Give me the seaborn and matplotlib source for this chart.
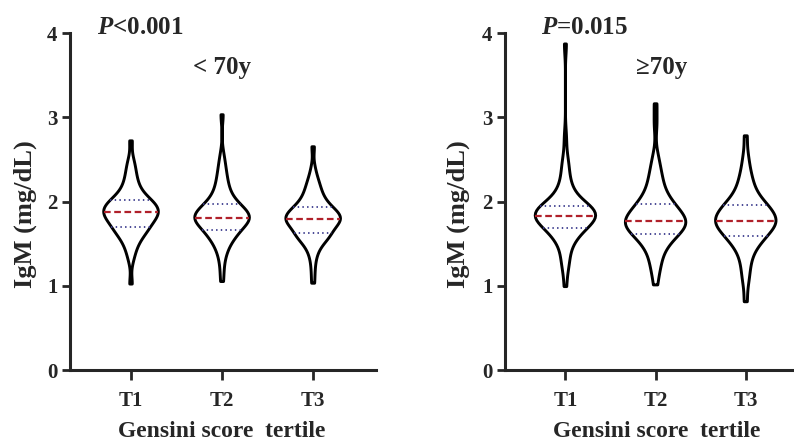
import matplotlib
matplotlib.use('Agg')
import matplotlib.pyplot as plt
import seaborn as sns
import numpy as np
import pandas as pd

sns.set_style('ticks')
plt.rcParams['font.family'] = ['Liberation Serif', 'DejaVu Serif']
plt.rcParams['font.weight'] = 'bold'
plt.rcParams['axes.labelweight'] = 'bold'
plt.rcParams['mathtext.fontset'] = 'custom'
plt.rcParams['mathtext.it'] = 'Liberation Serif:italic:bold'
plt.rcParams['mathtext.rm'] = 'Liberation Serif:bold'

tertiles = ['T1', 'T2', 'T3']
panel_titles = ['< 70y', '\u226570y']
p_labels = [r'$\it{P}$<0.001', r'$\it{P}$=0.015']

# IgM (mg/dL) values, <70y
lt70_t1 = [1.02, 1.30, 1.38, 1.44, 1.48, 1.52, 1.55, 1.58, 1.60, 1.62,
           1.64, 1.65, 1.67, 1.68, 1.69, 1.70, 1.72, 1.74, 1.76, 1.77,
           1.78, 1.79, 1.80, 1.81, 1.82, 1.83, 1.84, 1.85, 1.86, 1.87,
           1.87, 1.88, 1.89, 1.90, 1.91, 1.92, 1.93, 1.94, 1.95, 1.96,
           1.97, 1.98, 1.99, 2.00, 2.01, 2.02, 2.04, 2.06, 2.08, 2.10,
           2.13, 2.16, 2.19, 2.23, 2.27, 2.32, 2.37, 2.43, 2.50, 2.72]
lt70_t2 = [1.05, 1.20, 1.32, 1.39, 1.44, 1.48, 1.51, 1.54, 1.57, 1.59,
           1.61, 1.62, 1.63, 1.64, 1.65, 1.67, 1.69, 1.71, 1.73, 1.74,
           1.75, 1.76, 1.77, 1.78, 1.78, 1.79, 1.79, 1.80, 1.80, 1.81,
           1.81, 1.82, 1.83, 1.84, 1.85, 1.86, 1.87, 1.88, 1.90, 1.91,
           1.92, 1.93, 1.94, 1.95, 1.96, 1.98, 2.00, 2.02, 2.05, 2.08,
           2.11, 2.14, 2.18, 2.22, 2.27, 2.32, 2.38, 2.45, 2.55, 3.03]
lt70_t3 = [1.03, 1.18, 1.30, 1.38, 1.43, 1.47, 1.50, 1.53, 1.55, 1.57,
           1.58, 1.59, 1.60, 1.61, 1.62, 1.63, 1.65, 1.67, 1.69, 1.70,
           1.72, 1.73, 1.74, 1.75, 1.76, 1.77, 1.77, 1.78, 1.78, 1.79,
           1.79, 1.80, 1.81, 1.82, 1.83, 1.84, 1.85, 1.86, 1.87, 1.88,
           1.89, 1.90, 1.91, 1.92, 1.93, 1.95, 1.97, 1.99, 2.01, 2.03,
           2.05, 2.08, 2.11, 2.14, 2.17, 2.21, 2.25, 2.30, 2.40, 2.65]
# >=70y
ge70_t1 = [0.99, 1.20, 1.26, 1.32, 1.40, 1.46, 1.51, 1.55, 1.58, 1.61,
           1.63, 1.64, 1.65, 1.66, 1.67, 1.69, 1.71, 1.73, 1.75, 1.76,
           1.77, 1.78, 1.79, 1.80, 1.81, 1.81, 1.82, 1.82, 1.83, 1.83,
           1.83, 1.84, 1.85, 1.86, 1.87, 1.88, 1.88, 1.89, 1.90, 1.90,
           1.91, 1.92, 1.93, 1.93, 1.94, 1.96, 1.98, 2.00, 2.03, 2.06,
           2.09, 2.13, 2.17, 2.22, 2.28, 2.36, 2.45, 2.50, 2.75, 3.87]
ge70_t2 = [1.01, 1.15, 1.22, 1.28, 1.34, 1.39, 1.43, 1.47, 1.50, 1.53,
           1.55, 1.57, 1.58, 1.59, 1.60, 1.62, 1.64, 1.66, 1.68, 1.69,
           1.70, 1.71, 1.72, 1.73, 1.73, 1.74, 1.75, 1.75, 1.76, 1.77,
           1.77, 1.78, 1.79, 1.80, 1.82, 1.84, 1.86, 1.87, 1.89, 1.90,
           1.91, 1.93, 1.94, 1.95, 1.97, 1.99, 2.01, 2.04, 2.07, 2.10,
           2.14, 2.18, 2.22, 2.27, 2.32, 2.38, 2.45, 2.55, 2.92, 3.16]
ge70_t3 = [0.81, 1.02, 1.12, 1.20, 1.28, 1.34, 1.39, 1.43, 1.47, 1.50,
           1.53, 1.55, 1.56, 1.57, 1.58, 1.60, 1.62, 1.64, 1.66, 1.68,
           1.69, 1.70, 1.71, 1.72, 1.73, 1.74, 1.75, 1.76, 1.76, 1.77,
           1.77, 1.78, 1.80, 1.81, 1.83, 1.84, 1.86, 1.87, 1.88, 1.89,
           1.90, 1.92, 1.93, 1.94, 1.95, 1.97, 1.99, 2.01, 2.03, 2.06,
           2.09, 2.12, 2.16, 2.20, 2.25, 2.30, 2.36, 2.45, 2.56, 2.78]

groups = [[lt70_t1, lt70_t2, lt70_t3], [ge70_t1, ge70_t2, ge70_t3]]


def make_df(vals):
    rows = []
    for t, v in zip(tertiles, vals):
        for x in v:
            rows.append((t, x))
    return pd.DataFrame(rows, columns=['tertile', 'igm'])


fig = plt.figure(figsize=(7.94, 4.42), dpi=100)
ax1 = fig.add_axes([70 / 794, 72 / 442, 306 / 794, 337 / 442])
ax2 = fig.add_axes([505 / 794, 72 / 442, 303 / 794, 337 / 442])

widths = [0.6, 0.67]
xl_x = [0.496, 0.50]
yl_x = [-0.147, -0.155]
p_x = [-0.37, -0.27]
t_x = [1.0, 1.07]

for i, ax in enumerate([ax1, ax2]):
    df = make_df(groups[i])
    sns.violinplot(data=df, x='tertile', y='igm', order=tertiles, ax=ax,
                   cut=0, inner='quart', density_norm='width', fill=False,
                   color='black', linewidth=2.1, bw_adjust=0.7, width=widths[i])
    meds = [np.median(v) for v in groups[i]]
    for ln in ax.lines:
        yd = np.asarray(ln.get_ydata())
        if len(yd) == 2 and yd[0] == yd[1]:
            if any(abs(yd[0] - m) < 1e-9 for m in meds):
                ln.set_color('#b0202a')
                ln.set_linewidth(1.6)
                ln.set_dashes([3, 1.6])
            else:
                ln.set_color('#3a3a8c')
                ln.set_linewidth(1.3)
                ln.set_dashes([0.8, 1.8])
    ax.set_ylim(0, 4)
    ax.set_xlim(-0.67, 2.69)
    ax.set_yticks([0, 1, 2, 3, 4])
    sns.despine(ax=ax)
    for s in ['left', 'bottom']:
        ax.spines[s].set_linewidth(2.2)
    ax.tick_params(axis='y', length=6, width=2, labelsize=15, pad=3)
    ax.tick_params(axis='x', length=7, width=2, labelsize=15, pad=8)
    ax.set_ylabel('IgM (mg/dL)', fontsize=19, fontweight='bold')
    ax.set_xlabel('Gensini score  tertile', fontsize=17, fontweight='bold')
    ax.yaxis.label.set_va('center')
    ax.yaxis.set_label_coords(yl_x[i], 0.463)
    ax.xaxis.label.set_va('baseline')
    ax.xaxis.set_label_coords(xl_x[i], -0.199)
    ax.text(p_x[i], 3.99, p_labels[i], fontsize=18, fontweight='bold',
            ha='left', va='baseline', clip_on=False)
    ax.text(t_x[i], 3.51, panel_titles[i], fontsize=18, fontweight='bold',
            ha='center', va='baseline')
    for lab in ax.get_xticklabels() + ax.get_yticklabels():
        lab.set_fontweight('bold')

fig.savefig('out.png', dpi=100)
